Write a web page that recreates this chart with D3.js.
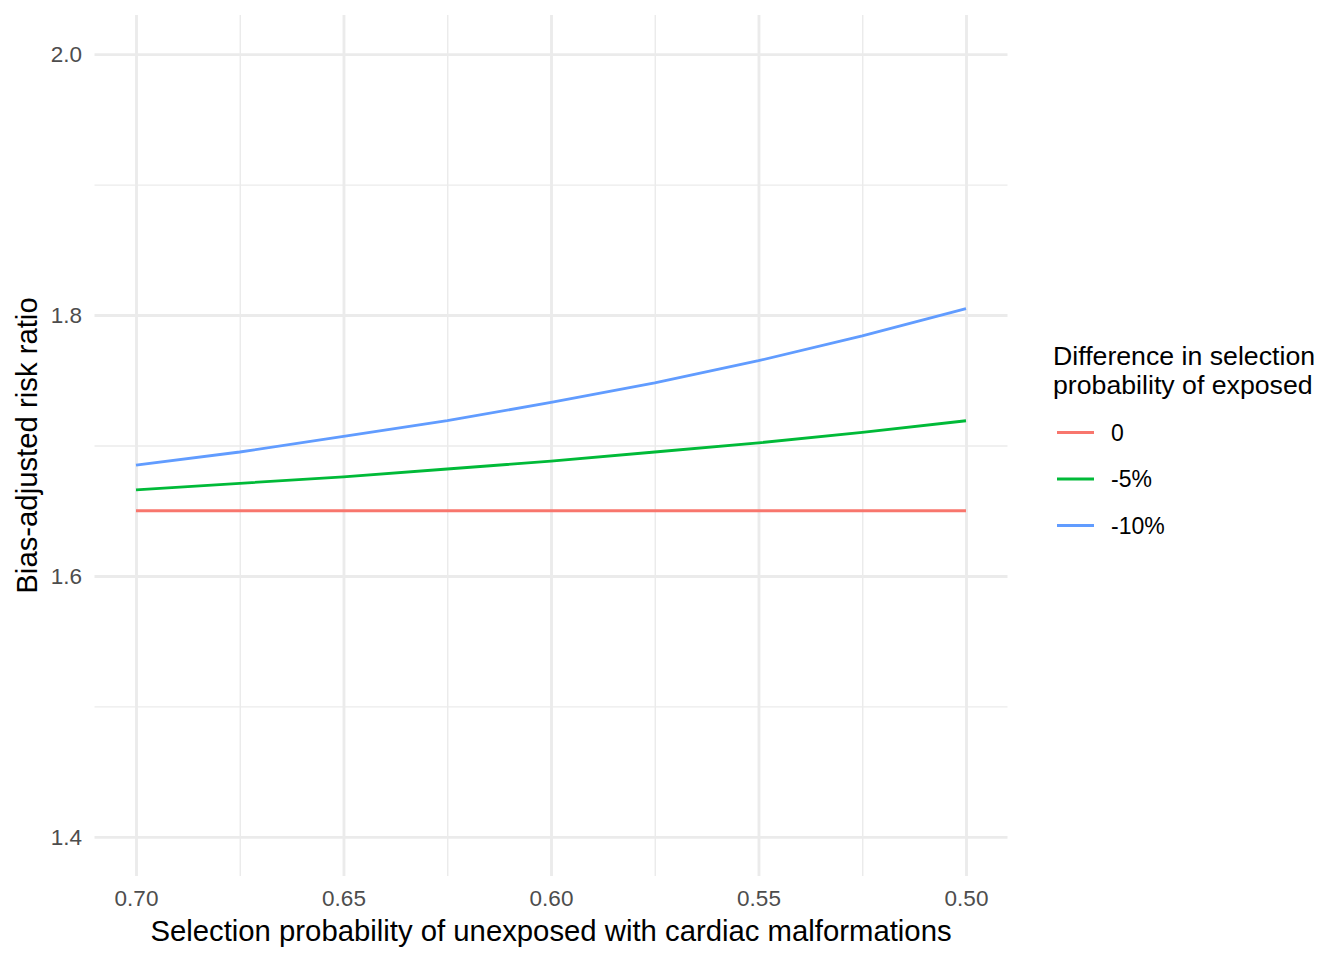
<!DOCTYPE html>
<html>
<head>
<meta charset="utf-8">
<script src="https://cdn.jsdelivr.net/npm/d3@7"></script>
<style>
  body { margin: 0; background: #fff; }
  svg { display: block; font-family: "Liberation Sans", Arial, sans-serif; }
</style>
</head>
<body>
<svg id="chart" width="1344" height="960"></svg>
<script>
// values
var selectionProb = [0.700, 0.675, 0.650, 0.625, 0.600, 0.575, 0.550, 0.525, 0.500];
var rrDiff0 = [1.650, 1.650, 1.650, 1.650, 1.650, 1.650, 1.650, 1.650, 1.650];
var rrDiff5 = [1.666, 1.671, 1.676, 1.682, 1.688, 1.695, 1.702, 1.710, 1.719];
var rrDiff10 = [1.685, 1.695, 1.707, 1.719, 1.733, 1.748, 1.765, 1.784, 1.805];

var seriesNames = ["0", "-5%", "-10%"];
var seriesColors = ["#F8766D", "#00BA38", "#619CFF"];

var xMajor = [0.70, 0.65, 0.60, 0.55, 0.50];
var xMinor = [0.675, 0.625, 0.575, 0.525];
var yMajor = [1.4, 1.6, 1.8, 2.0];
var yMinor = [1.5, 1.7, 1.9];

(function() {

    var series = [rrDiff0, rrDiff5, rrDiff10].map(function(vals, i) {
        return {
            name: seriesNames[i],
            color: seriesColors[i],
            points: vals.map(function(v, j) { return { x: selectionProb[j], y: v }; })
        };
    });

    // panel edges (window.top is taken, so own names)
    var pLeft = 94.5, pRight = 1007.5, pTop = 15, pBottom = 876;

    var svg = d3.select("#chart");

    var x = d3.scaleLinear().domain([0.71, 0.49]).range([pLeft, pRight]);
    var y = d3.scaleLinear().domain([1.37, 2.03]).range([pBottom, pTop]);

    /* grid lines, minor first then major */
    function grid(g, axis, width) {
        g.call(axis);
        g.select(".domain").remove();
        g.selectAll(".tick line").attr("stroke", "#EBEBEB").attr("stroke-width", width);
        g.selectAll(".tick text").remove();
    }

    svg.append("g").attr("transform", "translate(0," + pBottom + ")")
        .call(grid, d3.axisBottom(x).tickValues(xMinor).tickSize(-(pBottom - pTop)), 1.42);
    svg.append("g").attr("transform", "translate(" + pLeft + ",0)")
        .call(grid, d3.axisLeft(y).tickValues(yMinor).tickSize(-(pRight - pLeft)), 1.42);
    svg.append("g").attr("transform", "translate(0," + pBottom + ")")
        .call(grid, d3.axisBottom(x).tickValues(xMajor).tickSize(-(pBottom - pTop)), 2.85);
    svg.append("g").attr("transform", "translate(" + pLeft + ",0)")
        .call(grid, d3.axisLeft(y).tickValues(yMajor).tickSize(-(pRight - pLeft)), 2.85);

    // tick labels
    var xAxis = svg.append("g").attr("transform", "translate(0," + pBottom + ")")
        .call(d3.axisBottom(x).tickValues(xMajor).tickSize(0).tickPadding(14).tickFormat(d3.format(".2f")));
    var yAxis = svg.append("g").attr("transform", "translate(" + pLeft + ",0)")
        .call(d3.axisLeft(y).tickValues(yMajor).tickSize(0).tickPadding(12.5).tickFormat(d3.format(".1f")));
    [xAxis, yAxis].forEach(function(a) {
        a.select(".domain").remove();
        a.selectAll(".tick text")
            .attr("fill", "#4D4D4D")
            .style("font-size", "22.5px")
            .style("font-family", "'Liberation Sans', Arial, sans-serif");
    });

    // lines
    var line = d3.line()
        .x(function(d) { return x(d.x); })
        .y(function(d) { return y(d.y); });

    svg.append("g").selectAll("path")
        .data(series)
        .enter().append("path")
        .attr("d", function(d) { return line(d.points); })
        .attr("fill", "none")
        .attr("stroke", function(d) { return d.color; })
        .attr("stroke-width", 2.85);

    // axis titles
    svg.append("text")
        .attr("x", (pLeft + pRight) / 2)
        .attr("y", 941)
        .attr("text-anchor", "middle")
        .style("font-size", "29.3px")
        .text("Selection probability of unexposed with cardiac malformations");

    svg.append("text")
        .attr("transform", "translate(37," + ((pTop + pBottom) / 2) + ") rotate(-90)")
        .attr("text-anchor", "middle")
        .style("font-size", "29.3px")
        .text("Bias-adjusted risk ratio");

    // legend
    var legend = svg.append("g");
    legend.append("text")
        .attr("x", 1053).attr("y", 365)
        .style("font-size", "26.7px")
        .text("Difference in selection");
    legend.append("text")
        .attr("x", 1053).attr("y", 394)
        .style("font-size", "26.7px")
        .text("probability of exposed");

    var keys = legend.selectAll("g.key")
        .data(series)
        .enter().append("g")
        .attr("class", "key")
        .attr("transform", function(d, i) { return "translate(0," + (432.5 + i * 46.5) + ")"; });

    keys.append("line")
        .attr("x1", 1057).attr("x2", 1094)
        .attr("stroke", function(d) { return d.color; })
        .attr("stroke-width", 2.85);

    keys.append("text")
        .attr("x", 1111)
        .attr("dy", "0.36em")
        .style("font-size", "23px")
        .text(function(d) { return d.name; });

})();
</script>
</body>
</html>
